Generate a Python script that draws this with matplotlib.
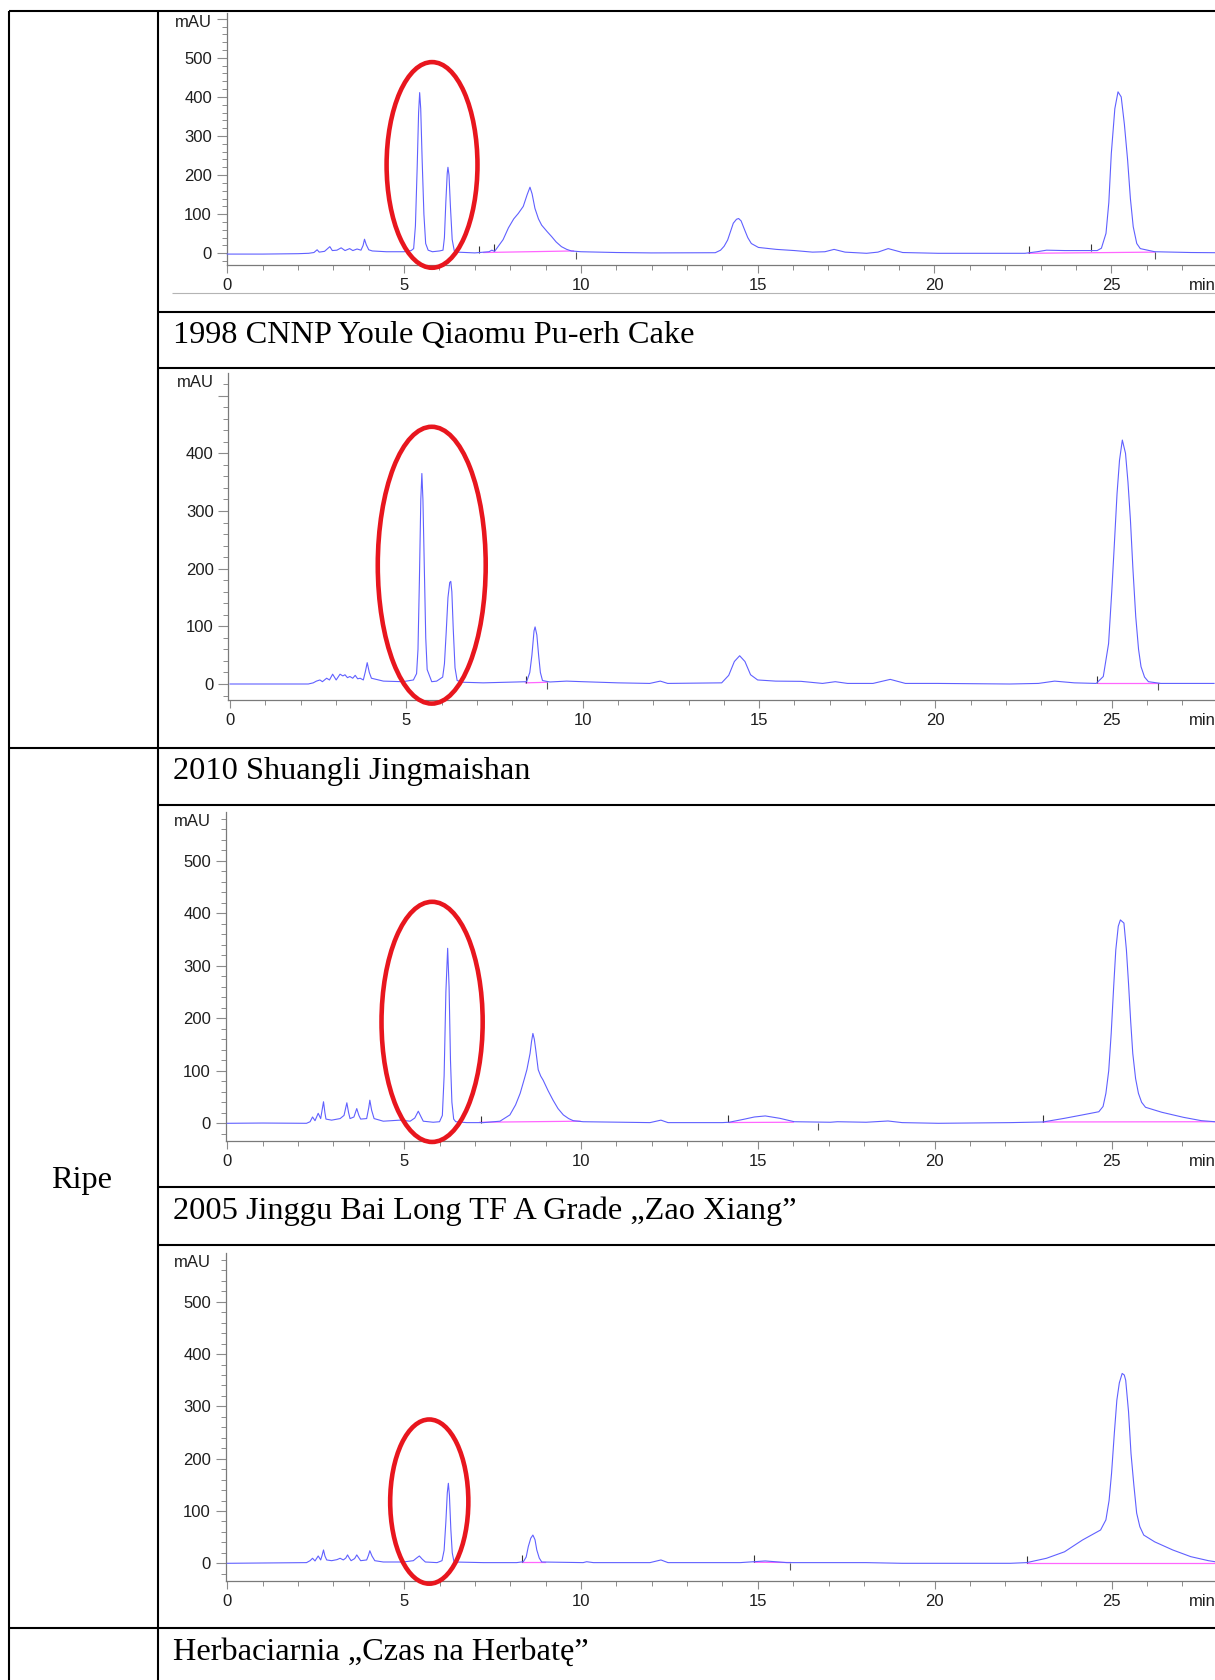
import matplotlib
matplotlib.use("Agg")
import matplotlib.pyplot as plt
from matplotlib.lines import Line2D
from matplotlib.patches import Ellipse
from matplotlib.ticker import MultipleLocator, FixedLocator, FuncFormatter

# ---------------- data ----------------
SAMPLE_TITLES = [
    "1998 CNNP Youle Qiaomu Pu-erh Cake",
    "2010 Shuangli Jingmaishan",
    "2005 Jinggu Bai Long TF A Grade \u201eZao Xiang\u201d",
    "Herbaciarnia \u201eCzas na Herbat\u0119\u201d",
]
GROUP_LABEL = "Ripe"
X_TICKS = [0, 5, 10, 15, 20, 25]
X_UNIT = "min"
Y_UNIT = "mAU"
Y_LABEL_MAX = [500, 400, 500, 500]

# panel 1 trace (time min, absorbance mAU)
P1_TIME = [0.00, 1.00, 2.00, 2.30, 2.45, 2.54, 2.60, 2.75, 2.90, 2.97, 3.10, 3.22, 3.33, 3.46, 3.55,
           3.67, 3.78, 3.84, 3.88, 3.93, 4.00, 4.10, 4.50, 5.00, 5.20, 5.27, 5.32, 5.37, 5.41, 5.44,
           5.47, 5.51, 5.56, 5.61, 5.68, 5.80, 6.00, 6.10, 6.14, 6.18, 6.22, 6.24, 6.27, 6.31, 6.36,
           6.42, 6.50, 7.00, 7.40, 7.48, 7.56, 7.80, 7.95, 8.10, 8.23, 8.37, 8.48, 8.56, 8.62, 8.70,
           8.80, 8.89, 9.05, 9.17, 9.30, 9.45, 9.60, 9.73, 10.00, 11.00, 12.00, 13.80, 13.95, 14.05,
           14.15, 14.31, 14.40, 14.46, 14.53, 14.63, 14.72, 14.82, 15.02, 15.53, 16.04, 16.55, 16.90,
           17.16, 17.47, 18.08, 18.40, 18.69, 19.10, 20.10, 22.56, 22.90, 23.17, 23.68, 24.60, 24.72,
           24.85, 24.93, 25.00, 25.10, 25.19, 25.28, 25.37, 25.46, 25.54, 25.62, 25.72, 25.82, 26.23,
           27.25, 28.00]
P1_MAU = [-2, -2, -1, 0, 2, 9, 3, 5, 17, 7, 8, 14, 7, 12, 7,
          11, 8, 20, 36, 22, 9, 6, 4, 4, 7, 12, 70, 220, 360, 411,
          370, 240, 100, 25, 8, 4, 6, 8, 40, 130, 205, 220, 200, 120, 35,
          6, 3, 1, 4, 8, 5, 35, 65, 88, 102, 120, 150, 169, 152, 115,
          88, 72, 55, 43, 29, 17, 10, 6, 4, 2, 1, 1.5, 8, 18,
          34, 77, 87, 89, 83, 60, 40, 25, 15, 10, 7, 3, 4,
          10, 3, 0, 3, 12, 2, 0, 0, 4, 8, 7, 7, 13,
          51, 130, 255, 370, 413, 400, 330, 240, 140, 68, 25, 12, 4,
          2, 1.5]

# panel 2 trace
P2_TIME = [0.00, 2.22, 2.36, 2.45, 2.55, 2.62, 2.74, 2.82, 2.91, 3.01, 3.12, 3.20, 3.26, 3.33, 3.40,
           3.48, 3.55, 3.62, 3.69, 3.78, 3.84, 3.89, 3.95, 4.01, 4.35, 4.90, 5.20, 5.29, 5.33, 5.37,
           5.41, 5.44, 5.47, 5.51, 5.55, 5.59, 5.72, 5.86, 6.03, 6.08, 6.13, 6.18, 6.23, 6.26, 6.29,
           6.33, 6.38, 6.44, 6.62, 7.18, 8.13, 8.41, 8.50, 8.56, 8.62, 8.65, 8.70, 8.75, 8.80, 8.86,
           9.07, 9.54, 10.00, 11.00, 11.90, 12.20, 12.41, 13.94, 14.14, 14.30, 14.45, 14.60, 14.76,
           14.96, 15.47, 16.19, 16.80, 17.16, 17.51, 18.23, 18.72, 19.15, 20.06, 22.11, 22.92, 23.38,
           23.94, 24.56, 24.76, 24.91, 25.00, 25.07, 25.15, 25.22, 25.30, 25.39, 25.46, 25.53, 25.60,
           25.68, 25.76, 25.83, 25.93, 26.04, 26.39, 27.90]
P2_MAU = [0, 0, 2, 5, 7, 4, 10, 7, 17, 7, 17, 14, 16, 11, 13,
          10, 15, 9, 10, 7, 22, 37, 20, 10, 5, 4, 7, 18, 60, 180,
          320, 365, 320, 200, 80, 25, 4, 5, 12, 35, 90, 150, 176, 178, 160,
          95, 28, 6, 3, 2, 3.5, 4, 20, 50, 92, 99, 85, 50, 20, 6,
          3.5, 5, 4, 2, 1, 5, 1, 2, 15, 39, 49, 39, 16,
          7, 5, 4.6, 1, 4, 1, 1, 8, 1, 1, 0, 1, 5,
          2, 1, 13, 70, 160, 238, 330, 388, 423, 400, 350, 284, 200,
          117, 60, 30, 12, 4, 1, 1]

# panel 3 trace
P3_TIME = [0.00, 1.00, 2.24, 2.34, 2.41, 2.48, 2.57, 2.64, 2.68, 2.72, 2.76, 2.79, 2.95, 3.19, 3.30,
           3.38, 3.43, 3.47, 3.58, 3.66, 3.72, 3.77, 3.94, 4.00, 4.03, 4.08, 4.15, 4.41, 4.88, 5.17,
           5.30, 5.40, 5.48, 5.54, 5.82, 6.00, 6.08, 6.13, 6.18, 6.23, 6.27, 6.31, 6.35, 6.40, 6.46,
           6.77, 7.24, 7.71, 7.99, 8.15, 8.28, 8.40, 8.47, 8.56, 8.60, 8.64, 8.68, 8.72, 8.79, 8.86,
           8.93, 9.07, 9.21, 9.35, 9.50, 9.65, 9.78, 10.06, 11.95, 12.26, 12.46, 13.99, 14.19, 14.60,
           14.90, 15.21, 15.62, 16.03, 17.05, 17.25, 18.06, 18.68, 19.08, 20.10, 22.14, 23.06, 23.67,
           24.18, 24.64, 24.76, 24.84, 24.92, 24.99, 25.06, 25.12, 25.19, 25.25, 25.35, 25.42, 25.48,
           25.54, 25.60, 25.68, 25.76, 25.85, 25.96, 26.42, 27.03, 27.54, 27.93]
P3_MAU = [0, 0.5, 0, 3, 12, 5, 19, 9, 25, 41, 20, 8, 6, 9, 15,
          39, 20, 9, 12, 28, 15, 8, 9, 30, 44, 25, 9, 4, 6, 4,
          10, 23, 12, 4, 2, 3, 15, 90, 250, 333, 260, 120, 40, 8, 3,
          1.3, 1.3, 4, 16, 35, 57, 85, 102, 133, 155, 171, 160, 140, 102, 90,
          82, 62, 44, 28, 16, 9, 5, 3, 1.3, 6, 1.3, 1.3, 2, 7.6,
          12, 14, 9.5, 3, 2, 3, 2, 4.4, 1.3, 0, 1.3, 2.5, 9.5,
          16, 22, 32, 57, 100, 171, 260, 330, 375, 387, 381, 330, 266,
          195, 133, 85, 57, 40, 30.5, 21, 11.4, 5, 3]

# panel 4 trace
P4_TIME = [0.00, 2.24, 2.34, 2.41, 2.48, 2.57, 2.64, 2.68, 2.72, 2.76, 2.81, 2.95, 3.10, 3.19, 3.28,
           3.35, 3.40, 3.45, 3.50, 3.60, 3.66, 3.72, 3.77, 3.94, 3.99, 4.03, 4.09, 4.17, 4.41, 4.97,
           5.26, 5.35, 5.43, 5.51, 5.60, 5.93, 6.07, 6.13, 6.18, 6.22, 6.25, 6.28, 6.32, 6.36, 6.41,
           7.24, 8.18, 8.37, 8.45, 8.51, 8.58, 8.64, 8.70, 8.75, 8.82, 8.89, 10.06, 10.16, 10.35,
           11.95, 12.26, 12.46, 14.50, 15.21, 15.82, 18.06, 19.08, 22.14, 22.60, 23.16, 23.67, 24.18,
           24.69, 24.84, 24.93, 25.00, 25.08, 25.15, 25.22, 25.30, 25.36, 25.40, 25.48, 25.55, 25.63,
           25.71, 25.80, 25.91, 26.22, 26.73, 27.24, 27.74, 27.93]
P4_MAU = [0, 1.3, 5, 9.6, 4.5, 14, 6.4, 15, 25.5, 14, 6.4, 5, 7, 9.6, 6.4,
          10, 16, 10, 5, 9, 16, 10, 5, 6.4, 15, 24, 14, 5, 2.5, 2.5,
          5, 10, 14, 8, 2.5, 1.3, 5, 25, 80, 135, 153, 130, 65, 20, 2.5,
          1.3, 1.3, 3, 12, 32, 48, 54, 45, 25.5, 10, 2.5, 1.3, 3, 1.3,
          1.3, 6.4, 1.3, 1.3, 4.5, 1.3, 1.3, 0, 0, 1.3, 9.6, 22, 44.6,
          63.7, 83, 120, 172, 250, 312, 345, 363, 360, 350, 290, 210, 150,
          96, 70, 54, 41, 25.5, 12.7, 5, 3]

TRACE_TIMES = [P1_TIME, P2_TIME, P3_TIME, P4_TIME]
TRACE_MAU = [P1_MAU, P2_MAU, P3_MAU, P4_MAU]

# integration baselines (start min, start mAU, end min, end mAU)
BASELINES = [
    [(7.25, 2, 9.79, 6), (22.66, 0, 26.23, 3)],
    [(8.38, 2, 8.99, 3), (24.60, 1, 26.33, 1)],
    [(7.14, 2, 9.97, 4), (14.19, 1.5, 16.00, 2), (23.06, 2.5, 27.93, 3)],
    [(8.32, 2, 8.99, 2), (14.90, 2, 15.92, 1.5), (22.60, 1, 27.93, 1)],
]
# integration event marks (min, mAU, 'up'/'down')
EVENTS = [
    [(7.11, 2, "up"), (7.55, 5, "up"), (9.85, 4, "down"), (22.66, 0, "up"), (24.42, 6, "up"), (26.23, 4, "down")],
    [(8.38, 2, "up"), (8.99, 3, "down"), (24.59, 1, "up"), (26.32, 1, "down")],
    [(7.17, 1, "up"), (14.17, 2, "up"), (16.69, 1, "down"), (23.06, 2.5, "up")],
    [(8.32, 2, "up"), (14.88, 2, "up"), (15.92, 1.5, "down"), (22.60, 1, "up")],
]
# highlighted region (centre min, centre mAU, width min, height mAU)
HIGHLIGHTS = [(5.79, 226, 2.57, 526), (5.72, 206, 3.06, 480), (5.79, 193, 2.86, 457), (5.71, 118, 2.21, 314)]

# ---------------- layout (pixels) ----------------
W, H, DPI = 1215, 1680, 100
# spine_x, x0, px/min, axis bottom, axis top, zero y, px/mAU
PANELS = [
    (226.7, 227.3, 35.36, 265.0, 13.0, 253.3, 0.391),
    (228.3, 230.0, 35.27, 700.0, 372.7, 684.0, 0.5767),
    (225.7, 227.3, 35.37, 1140.7, 811.7, 1123.3, 0.5255),
    (225.7, 227.3, 35.37, 1580.7, 1252.7, 1563.3, 0.523),
]
TITLE_ROW_TOPS = [312, 748, 1187, 1628]

SANS = ["Liberation Sans", "DejaVu Sans"]
SERIF = ["Liberation Serif", "DejaVu Serif"]
TRACE_C = "#6060ff"
AXIS_C = "#7a7a7a"
TICK_C = "#8c8c8c"
TXT_C = "#1e1e1e"
FS_TICK = 12

fig = plt.figure(figsize=(W / DPI, H / DPI), dpi=DPI)
fig.patch.set_facecolor("white")


def fx(x):
    return x / W


def fy(y):
    return 1 - y / H


def hline(y, x1, x2, lw=1.5, c="black"):
    fig.add_artist(Line2D([fx(x1), fx(x2)], [fy(y), fy(y)], color=c, lw=lw,
                          transform=fig.transFigure, solid_capstyle="butt"))


def vline(x, y1, y2, lw=1.5, c="black"):
    fig.add_artist(Line2D([fx(x), fx(x)], [fy(y1), fy(y2)], color=c, lw=lw,
                          transform=fig.transFigure, solid_capstyle="butt"))


for i, (sx, x0, ppm, yb, yt, y0, ppu) in enumerate(PANELS):
    ax = fig.add_axes([fx(sx), fy(yb), (W - sx) / W, (yb - yt) / H])
    ax.set_facecolor("none")
    ax.set_xlim((sx - x0) / ppm, (W - x0) / ppm)
    ax.set_ylim((y0 - yb) / ppu, (y0 - yt) / ppu)
    for s in ("top", "right"):
        ax.spines[s].set_visible(False)
    ax.spines["left"].set_color(AXIS_C)
    ax.spines["bottom"].set_color(AXIS_C)
    ax.spines["left"].set_linewidth(0.9)
    ax.spines["bottom"].set_linewidth(0.9)

    ax.xaxis.set_major_locator(FixedLocator(X_TICKS))
    ax.xaxis.set_minor_locator(MultipleLocator(1))
    ax.yaxis.set_major_locator(MultipleLocator(100))
    ax.yaxis.set_minor_locator(MultipleLocator(20))
    lim = Y_LABEL_MAX[i]
    ax.yaxis.set_major_formatter(FuncFormatter(lambda v, p, lim=lim: "%d" % round(v) if -1 < v <= lim + 1 else ""))
    ax.xaxis.set_major_formatter(FuncFormatter(lambda v, p: "%d" % round(v)))
    ax.tick_params(axis="y", which="major", length=7.2, width=0.8, color=TICK_C, pad=3.4,
                   labelsize=FS_TICK, labelcolor=TXT_C)
    ax.tick_params(axis="y", which="minor", length=3.6, width=0.7, color=TICK_C)
    ax.tick_params(axis="x", which="major", length=5.8, width=0.8, color=TICK_C, pad=3.6,
                   labelsize=FS_TICK, labelcolor=TXT_C)
    ax.tick_params(axis="x", which="minor", length=3.6, width=0.7, color=TICK_C)
    for lab in ax.get_xticklabels() + ax.get_yticklabels():
        lab.set_fontfamily(SANS)

    ax.annotate(Y_UNIT, xy=(0, 1), xycoords="axes fraction", xytext=(-10.6, -6.9),
                textcoords="offset points", ha="right", va="center", fontsize=FS_TICK,
                family=SANS, color=TXT_C, annotation_clip=False)
    ax.annotate(X_UNIT, xy=(27.2, 0), xycoords=("data", "axes fraction"), xytext=(0, -9.4),
                textcoords="offset points", ha="left", va="top", fontsize=FS_TICK,
                family=SANS, color=TXT_C, annotation_clip=False)

    for (t1, a1, t2, a2) in BASELINES[i]:
        ax.plot([t1, t2], [a1, a2], color="#ff66ff", lw=0.9, zorder=2)
    for (t, a, d) in EVENTS[i]:
        ax.plot([t], [a], ls="none", marker=2 if d == "up" else 3, ms=5, mew=0.8,
                color="#333333" if d == "up" else "#555555", zorder=3)

    ax.plot(TRACE_TIMES[i], TRACE_MAU[i], color=TRACE_C, lw=0.8, zorder=4, clip_on=False)

    ct, ca, ew, eh = HIGHLIGHTS[i]
    ax.add_patch(Ellipse((ct, ca), ew, eh, fill=False, ec="#e8161e", lw=3.3,
                         clip_on=False, zorder=6))

# thin grey frame line under the first chromatogram
hline(293, 172, W, lw=0.8, c="#b4b4b4")

# ---------------- table grid ----------------
LEFT, COL = 8.5, 157.5
hline(11, LEFT, W)
hline(312, COL, W)
hline(367.5, COL, W)
hline(748, LEFT, W)
hline(805, COL, W)
hline(1187, COL, W)
hline(1245, COL, W)
hline(1628, LEFT, W)
vline(LEFT, 11, H)
vline(COL, 11, H)

for title, top in zip(SAMPLE_TITLES, TITLE_ROW_TOPS):
    fig.text(fx(173), fy(top + 31.5), title, ha="left", va="baseline", fontsize=23.3,
             family=SERIF, color="black")

fig.text(fx(82), fy(1188), GROUP_LABEL, ha="center", va="baseline", fontsize=23.3,
         family=SERIF, color="black")

fig.savefig("out.png", dpi=DPI, facecolor="white")
